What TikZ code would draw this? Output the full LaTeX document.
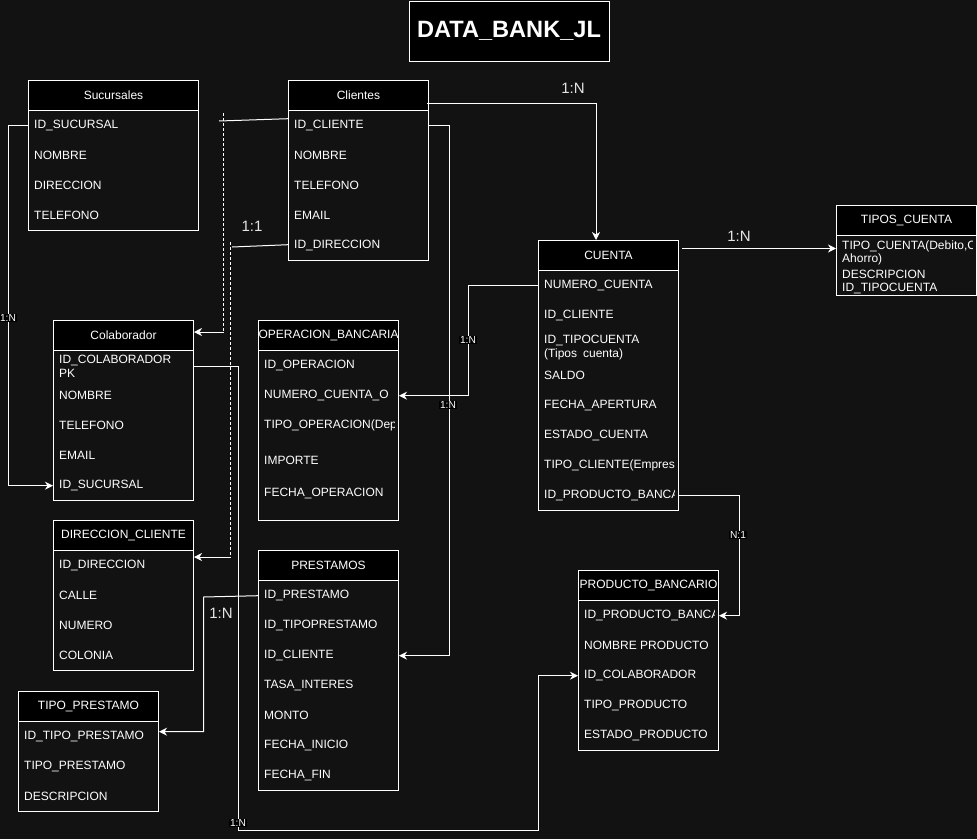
\documentclass[tikz,border=0pt]{standalone}
\usepackage{fontspec}
\setmainfont{Liberation Sans}
\usetikzlibrary{arrows.meta,calc}
\definecolor{canvas}{RGB}{18,18,18}
\tikzset{
  erhead/.style={draw=white, fill=black, text=white, line width=1pt, minimum height=30pt,
    inner sep=0pt, anchor=north west, font=\fontsize{12pt}{14pt}\selectfont},
  erframe/.style={draw=white, line width=1pt, inner sep=0pt, anchor=north west},
  errow/.style={text=white, anchor=west, inner sep=0pt, align=left, yshift=-0.7pt,
    font=\fontsize{12pt}{14pt}\selectfont},
  link/.style={draw=white, line width=1pt},
  tip/.style={-{Stealth[length=8pt,width=8pt,inset=2.5pt]}},
  jump/.style={draw=white, line width=1pt, dash pattern=on 3pt off 2pt},
  smalllbl/.style={fill=black, text=white, inner sep=0.8pt, font=\fontsize{10.2pt}{11pt}\selectfont},
  biglbl/.style={text=white!90!black, inner sep=0pt, font=\fontsize{15pt}{17pt}\selectfont},
  titlebox/.style={draw=white, fill=black, text=white, line width=1pt, inner sep=0pt,
    anchor=north west, minimum width=200pt, minimum height=60pt,
    font=\bfseries\fontsize{23.6pt}{26pt}\selectfont}
}
% one entity table: name, x, y, width, height, title, rows
\newcommand{\ertable}[7]{%
  \def\ertname{#1}\def\ertx{#2}%
  \node[erhead, minimum width=#4pt] (#1-h) at (#2,#3) {#6};
  \begin{scope}
    \clip (#2,#3) rectangle ({#2+#4-4},{#3+#5});
    #7
  \end{scope}
  \node[erframe, minimum width=#4pt, minimum height=#5pt] (#1) at (#2,#3) {};
}
\newcommand{\errow}[3]{\node[errow] (\ertname-#1) at (\ertx+6,#2) {#3};}

\begin{document}
\begin{tikzpicture}[x=1pt,y=-1pt]
\fill[canvas] (0,0) rectangle (977,839);
\useasboundingbox (0,0) rectangle (977,839);

\node[titlebox] (title) at (408.5,0.5) {DATA\_BANK\_JL};

\ertable{suc}{28}{80}{170}{150}{Sucursales}{%
  \errow{1}{125}{ID\_SUCURSAL}
  \errow{2}{155}{NOMBRE}
  \errow{3}{185}{DIRECCION}
  \errow{4}{215}{TELEFONO}}

\ertable{cli}{288}{80}{140}{180}{Clientes}{%
  \errow{1}{125}{ID\_CLIENTE}
  \errow{2}{155}{NOMBRE}
  \errow{3}{185}{TELEFONO}
  \errow{4}{215}{EMAIL}
  \errow{5}{245}{ID\_DIRECCION}}

\ertable{cta}{538}{240}{140}{270}{CUENTA}{%
  \errow{1}{285}{NUMERO\_CUENTA}
  \errow{2}{315}{ID\_CLIENTE}
  \errow{3}{347}{ID\_TIPOCUENTA\\(Tipos\enspace cuenta)}
  \errow{4}{375}{SALDO}
  \errow{5}{405}{FECHA\_APERTURA}
  \errow{6}{435}{ESTADO\_CUENTA}
  \errow{7}{465}{TIPO\_CLIENTE(Empres}
  \errow{8}{495}{ID\_PRODUCTO\_BANCA}}

\ertable{tc}{836}{205}{140}{90}{TIPOS\_CUENTA}{%
  \errow{1}{246}{TIPO\_CUENTA(Debito,C}
  \errow{2}{259}{Ahorro)}
  \errow{3}{274}{DESCRIPCION}
  \errow{4}{288}{ID\_TIPOCUENTA}}

\ertable{col}{53}{320}{140}{180}{Colaborador}{%
  \errow{1}{366}{ID\_COLABORADOR\\PK}
  \errow{2}{395}{NOMBRE}
  \errow{3}{425}{TELEFONO}
  \errow{4}{455}{EMAIL}
  \errow{5}{485}{ID\_SUCURSAL}}

\ertable{op}{258}{320}{140}{200}{OPERACION\_BANCARIA}{%
  \errow{1}{365}{ID\_OPERACION}
  \errow{2}{395}{NUMERO\_CUENTA\_O}
  \errow{3}{425}{TIPO\_OPERACION(Dep}
  \errow{4}{460}{IMPORTE}
  \errow{5}{493}{FECHA\_OPERACION}}

\ertable{dir}{53}{520}{140}{150}{DIRECCION\_CLIENTE}{%
  \errow{1}{565}{ID\_DIRECCION}
  \errow{2}{595}{CALLE}
  \errow{3}{625}{NUMERO}
  \errow{4}{655}{COLONIA}}

\ertable{pre}{258}{550}{140}{240}{PRESTAMOS}{%
  \errow{1}{595}{ID\_PRESTAMO}
  \errow{2}{625}{ID\_TIPOPRESTAMO}
  \errow{3}{655}{ID\_CLIENTE}
  \errow{4}{685}{TASA\_INTERES}
  \errow{5}{715}{MONTO}
  \errow{6}{745}{FECHA\_INICIO}
  \errow{7}{775}{FECHA\_FIN}}

\ertable{tp}{18}{691}{140}{120}{TIPO\_PRESTAMO}{%
  \errow{1}{736}{ID\_TIPO\_PRESTAMO}
  \errow{2}{766}{TIPO\_PRESTAMO}
  \errow{3}{796}{DESCRIPCION}}

\ertable{pb}{578}{570}{140}{180}{PRODUCTO\_BANCARIO}{%
  \errow{1}{615}{ID\_PRODUCTO\_BANCA}
  \errow{2}{645}{NOMBRE PRODUCTO}
  \errow{3}{675}{ID\_COLABORADOR}
  \errow{4}{705}{TIPO\_PRODUCTO}
  \errow{5}{735}{ESTADO\_PRODUCTO}}

% Sucursales -> Colaborador
\draw[link,tip] (suc-1 -| suc.west) -- ++(-20,0) |- (col-5 -| col.west);
\node[smalllbl] (lbl-suc) at (8,318) {1:N};

% Clientes -> Cuenta
\coordinate (cli-out) at ($(cli-h.east)+(-2,8)$);
\draw[link,tip] (cli-out) -| ($(cta-h.north)+(-12.5,0)$);
\node[biglbl] (lbl-cli-cta) at (573,88) {1:N};

% Clientes -> Prestamos
\draw[link,tip] (cli-1 -| cli.east) -- ++(20,0) |- (pre-3 -| pre.east);
\node[smalllbl] (lbl-cli-pre) at (448,405) {1:N};

% Cuenta -> Operacion bancaria
\draw[link,tip] (cta-1 -| cta.west) -- ++(-69.5,0) |- (op-2 -| op.east);
\node[smalllbl] (lbl-cta-op) at (468,340) {1:N};

% Cuenta -> Tipos de cuenta
\coordinate (cta-out) at ($(cta-h.east)+(3,-7)$);
\draw[link,tip] (cta-out) -- (cta-out -| tc.west);
\node[biglbl] (lbl-cta-tc) at (739,236) {1:N};

% Cuenta -> Producto bancario
\draw[link,tip] (cta-8 -| cta.east) -- ++(60,0) |- (pb-1 -| pb.east);
\node[smalllbl] (lbl-cta-pb) at (738,535) {N:1};

% Colaborador -> Producto bancario
\coordinate (col-bend1) at (238.5,830);
\coordinate (col-bend2) at (538.5,830);
\draw[link,tip] (col-1 -| col.east) -| (col-bend1) -- (col-bend2) |- (pb-3 -| pb.west);
\node[smalllbl] (lbl-col-pb) at (238,823) {1:N};

% Clientes -> Colaborador (line jump)
\coordinate (jA-in) at (219,121);
\coordinate (jA-top) at (223.5,113);
\coordinate (jA-bot) at (223.5,332);
\draw[link] ($(cli.west |- cli-1)+(0,-7)$) -- (jA-in);
\draw[jump] (jA-top) -- (jA-bot);
\draw[link,tip] (jA-bot) -- (jA-bot -| col-h.east);

% Clientes -> Direccion cliente (line jump)
\coordinate (jB-in) at (232,247);
\coordinate (jB-top) at (230.5,242);
\coordinate (jB-bot) at (230.5,557);
\draw[link] ($(cli.west |- cli-5)+(0,-1)$) -- (jB-in);
\draw[jump] (jB-top) -- (jB-bot);
\draw[link,tip] (jB-bot) -- (jB-bot -| dir.east);
\node[biglbl] (lbl-cli-dir) at (252,226) {1:1};

% Prestamos -> Tipo prestamo
\coordinate (pre-bend) at (203.5,597);
\draw[link,tip] (pre-1 -| pre.west) -- (pre-bend) |- ($(tp.east |- tp-1)+(0,-5)$);
\node[biglbl] (lbl-pre-tp) at (221,613) {1:N};
\end{tikzpicture}
\end{document}
